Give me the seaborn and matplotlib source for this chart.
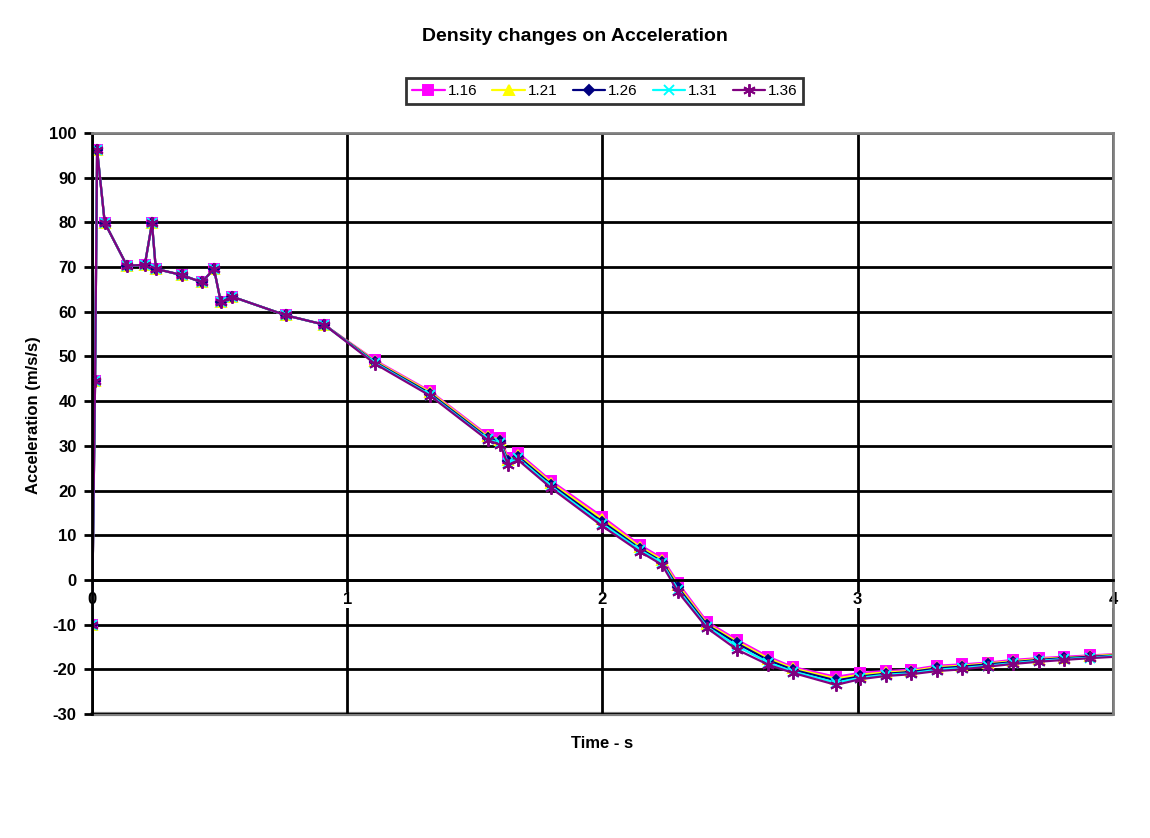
import numpy as np
import pandas as pd
import matplotlib
matplotlib.use("Agg")
import matplotlib.pyplot as plt
import seaborn as sns

# ---- data ----
time = [0, 0.012, 0.02, 0.05, 0.137, 0.207, 0.235, 0.25, 0.353, 0.43, 0.478, 0.505,
        0.548, 0.76, 0.91, 1.11, 1.325, 1.55, 1.6, 1.63, 1.67, 1.8, 2.0, 2.147, 2.233,
        2.296, 2.41, 2.527, 2.65, 2.746, 2.915, 3.01, 3.11, 3.21, 3.31, 3.41, 3.51,
        3.61, 3.71, 3.81, 3.91, 4.01]

early = [-10, 44.5, 96.2, 79.9, 70.3, 70.5, 79.8, 69.6, 68.2, 66.6, 69.6, 62.1,
         63.4, 59.2, 57.1]

acc_116 = early + [49.1, 42.2, 32.4, 31.8, 27.3, 28.4, 22.1, 14.1, 7.8, 4.9, -0.7, -9.4,
                   -13.4, -17.2, -19.5, -21.7, -20.8, -20.4, -20.1, -19.2, -18.9, -18.5,
                   -17.9, -17.5, -17.2, -16.9, -16.6]
acc_121 = early + [48.9, 42.0, 32.1, 31.4, 26.9, 28.0, 21.7, 13.6, 7.4, 4.5, -1.2, -9.8,
                   -13.8, -17.6, -19.8, -22.1, -21.2, -20.7, -20.4, -19.5, -19.2, -18.7,
                   -18.2, -17.7, -17.4, -17.1, -16.7]
acc_126 = early + [48.7, 41.7, 31.8, 31.0, 26.5, 27.6, 21.3, 13.0, 7.0, 4.1, -1.7, -10.1,
                   -14.2, -18.0, -20.1, -22.5, -21.6, -21.0, -20.6, -19.8, -19.4, -18.9,
                   -18.4, -17.9, -17.5, -17.2, -16.9]
acc_131 = early + [48.5, 41.4, 31.5, 30.6, 26.1, 27.2, 20.9, 12.5, 6.7, 3.8, -2.2, -10.5,
                   -14.8, -18.5, -20.5, -23.0, -21.9, -21.2, -20.9, -20.1, -19.7, -19.2,
                   -18.6, -18.1, -17.7, -17.4, -17.0]
acc_136 = early + [48.3, 41.2, 31.3, 30.2, 25.7, 26.8, 20.5, 12.0, 6.3, 3.4, -2.7, -10.8,
                   -15.6, -19.0, -20.8, -23.5, -22.2, -21.5, -21.1, -20.4, -20.0, -19.4,
                   -18.8, -18.3, -17.9, -17.5, -17.2]

densities = ["1.16", "1.21", "1.26", "1.31", "1.36"]
series = [acc_116, acc_121, acc_126, acc_131, acc_136]
colors = ["#FF00FF", "#FFFF00", "#000080", "#00FFFF", "#800080"]
markers = ["s", "^", "D", "x", (6, 2, 0)]
msizes = [7.5, 7, 5, 7, 9]

# ---- plot ----
sns.set_style("white")
plt.rcParams["font.family"] = ["Liberation Sans", "DejaVu Sans"]
plt.rcParams["font.weight"] = "bold"
plt.rcParams["axes.unicode_minus"] = False

fig = plt.figure(figsize=(11.5, 8.38), dpi=100)
ax = fig.add_axes([0.08, 0.148, 0.8878, 0.6933])

for d, s, c, m, ms in zip(densities, series, colors, markers, msizes):
    sdf = pd.DataFrame({"Time": time, "Acc": s})
    sns.lineplot(data=sdf, x="Time", y="Acc", color=c, marker=m, markersize=ms,
                 markeredgecolor=c, markeredgewidth=1.4, linewidth=1.6,
                 sort=False, estimator=None, label=d, ax=ax,
                 markevery=slice(0, len(time) - 1))

ax.set_xlim(0, 4)
ax.set_ylim(-30, 100)
ax.set_xticks([0, 1, 2, 3, 4])
ax.set_yticks(np.arange(-30, 101, 10))
ax.grid(True, color="black", linewidth=2)
ax.set_axisbelow(True)

for side in ["top", "right"]:
    ax.spines[side].set_color("#808080")
    ax.spines[side].set_linewidth(2)
ax.spines["left"].set_color("black")
ax.spines["left"].set_linewidth(2)
ax.spines["bottom"].set_position(("data", 0))
ax.spines["bottom"].set_color("black")
ax.spines["bottom"].set_linewidth(2)
ax.axhline(-30, color="#808080", linewidth=3, clip_on=False, zorder=0)

ax.tick_params(axis="y", direction="out", length=6, width=2, color="black",
               labelsize=12, labelcolor="black", pad=5, left=True)
ax.tick_params(axis="x", direction="out", length=0, labelsize=12, labelcolor="black",
               pad=9, bottom=True)
for lbl in ax.get_yticklabels():
    lbl.set_fontweight("bold")
for lbl in ax.get_xticklabels():
    lbl.set_fontweight("bold")
    lbl.set_bbox(dict(facecolor="white", edgecolor="none", pad=0.5))
    lbl.set_zorder(5)

ax.set_xlabel("Time - s", fontsize=12, fontweight="bold", color="black")
ax.xaxis.set_label_coords(0.5, -0.038)
ax.set_ylabel("Acceleration (m/s/s)", fontsize=12, fontweight="bold", color="black")
ax.yaxis.set_label_coords(-0.05, 0.515)

fig.suptitle("Density changes on Acceleration", x=0.5, y=0.966, fontsize=14,
             fontweight="bold", color="black")

handles, labels = ax.get_legend_handles_labels()
ax.get_legend().remove()
leg = fig.legend(handles, labels, loc="center", bbox_to_anchor=(0.526, 0.891), ncol=5,
                 frameon=True, fancybox=False, edgecolor="black", fontsize=11,
                 handlelength=2.1, columnspacing=1.0, handletextpad=0.2,
                 borderpad=0.4)
leg.get_frame().set_linewidth(2)
for t in leg.get_texts():
    t.set_fontweight("normal")
    t.set_color("black")

fig.savefig("out.png", dpi=100)
